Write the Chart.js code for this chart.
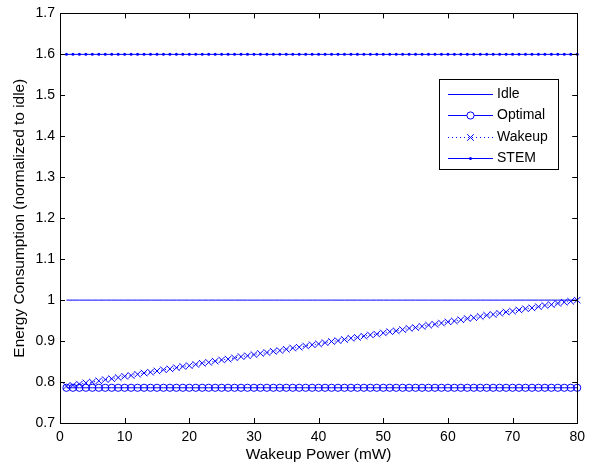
<!DOCTYPE html>
<html>
<head>
<meta charset="utf-8">
<script src="https://cdn.jsdelivr.net/npm/chart.js@4/dist/chart.umd.min.js"></script>
<style>
  body { margin: 0; background: #fff; }
  canvas { display: block; }
</style>
</head>
<body>
<canvas id="energy-chart" width="591" height="470"></canvas>
<script>
// wakeup power (mW)
var power = [
  1, 2, 3, 4, 5, 6, 7, 8, 9, 10, 11, 12, 13, 14, 15, 16, 17, 18, 19, 20,
  21, 22, 23, 24, 25, 26, 27, 28, 29, 30, 31, 32, 33, 34, 35, 36, 37, 38, 39, 40,
  41, 42, 43, 44, 45, 46, 47, 48, 49, 50, 51, 52, 53, 54, 55, 56, 57, 58, 59, 60,
  61, 62, 63, 64, 65, 66, 67, 68, 69, 70, 71, 72, 73, 74, 75, 76, 77, 78, 79, 80
];

var idle = [
  1, 1, 1, 1, 1, 1, 1, 1, 1, 1, 1, 1, 1, 1, 1, 1, 1, 1, 1, 1,
  1, 1, 1, 1, 1, 1, 1, 1, 1, 1, 1, 1, 1, 1, 1, 1, 1, 1, 1, 1,
  1, 1, 1, 1, 1, 1, 1, 1, 1, 1, 1, 1, 1, 1, 1, 1, 1, 1, 1, 1,
  1, 1, 1, 1, 1, 1, 1, 1, 1, 1, 1, 1, 1, 1, 1, 1, 1, 1, 1, 1
];

var optimal = [
  0.786, 0.786, 0.786, 0.786, 0.786, 0.786, 0.786, 0.786, 0.786, 0.786,
  0.786, 0.786, 0.786, 0.786, 0.786, 0.786, 0.786, 0.786, 0.786, 0.786,
  0.786, 0.786, 0.786, 0.786, 0.786, 0.786, 0.786, 0.786, 0.786, 0.786,
  0.786, 0.786, 0.786, 0.786, 0.786, 0.786, 0.786, 0.786, 0.786, 0.786,
  0.786, 0.786, 0.786, 0.786, 0.786, 0.786, 0.786, 0.786, 0.786, 0.786,
  0.786, 0.786, 0.786, 0.786, 0.786, 0.786, 0.786, 0.786, 0.786, 0.786,
  0.786, 0.786, 0.786, 0.786, 0.786, 0.786, 0.786, 0.786, 0.786, 0.786,
  0.786, 0.786, 0.786, 0.786, 0.786, 0.786, 0.786, 0.786, 0.786, 0.786
];

var wakeup = [
  0.790, 0.792, 0.795, 0.798, 0.800, 0.803, 0.806, 0.808, 0.811, 0.814,
  0.816, 0.819, 0.822, 0.824, 0.827, 0.830, 0.832, 0.835, 0.838, 0.840,
  0.843, 0.846, 0.848, 0.851, 0.854, 0.856, 0.859, 0.862, 0.864, 0.867,
  0.870, 0.872, 0.875, 0.877, 0.880, 0.883, 0.885, 0.888, 0.891, 0.893,
  0.896, 0.899, 0.901, 0.904, 0.907, 0.909, 0.912, 0.915, 0.917, 0.920,
  0.923, 0.925, 0.928, 0.931, 0.933, 0.936, 0.939, 0.941, 0.944, 0.947,
  0.949, 0.952, 0.955, 0.957, 0.960, 0.963, 0.965, 0.968, 0.971, 0.973,
  0.976, 0.979, 0.981, 0.984, 0.987, 0.989, 0.992, 0.995, 0.997, 1.000
];

var stem = [
  1.6, 1.6, 1.6, 1.6, 1.6, 1.6, 1.6, 1.6, 1.6, 1.6, 1.6, 1.6, 1.6, 1.6, 1.6, 1.6, 1.6, 1.6, 1.6, 1.6,
  1.6, 1.6, 1.6, 1.6, 1.6, 1.6, 1.6, 1.6, 1.6, 1.6, 1.6, 1.6, 1.6, 1.6, 1.6, 1.6, 1.6, 1.6, 1.6, 1.6,
  1.6, 1.6, 1.6, 1.6, 1.6, 1.6, 1.6, 1.6, 1.6, 1.6, 1.6, 1.6, 1.6, 1.6, 1.6, 1.6, 1.6, 1.6, 1.6, 1.6,
  1.6, 1.6, 1.6, 1.6, 1.6, 1.6, 1.6, 1.6, 1.6, 1.6, 1.6, 1.6, 1.6, 1.6, 1.6, 1.6, 1.6, 1.6, 1.6, 1.6
];

var seriesNames = ["Idle", "Optimal", "Wakeup", "STEM"];
var xTickLabels = ["0", "10", "20", "30", "40", "50", "60", "70", "80"];
var yTickLabels = ["0.7", "0.8", "0.9", "1", "1.1", "1.2", "1.3", "1.4", "1.5", "1.6", "1.7"];

var BLUE = "#0000ff";
var FONT = "'Liberation Sans', Arial, Helvetica, sans-serif";

function points(ys) {
  return power.map(function (x, i) { return { x: x, y: ys[i] }; });
}

// box round the axes with MATLAB-style inward ticks
var framePlugin = {
  id: "frame",
  afterDraw: function (chart) {
    var c = chart.ctx, a = chart.chartArea;
    var xs = chart.scales.x, ys = chart.scales.y;
    c.save();
    c.strokeStyle = "#000";
    c.lineWidth = 1;
    c.strokeRect(Math.round(a.left) + 0.5, Math.round(a.top) + 0.5,
                 Math.round(a.right - a.left), Math.round(a.bottom - a.top));
    c.beginPath();
    xs.ticks.forEach(function (t) {
      var px = Math.round(xs.getPixelForValue(t.value)) + 0.5;
      c.moveTo(px, a.bottom); c.lineTo(px, a.bottom - 5);
      c.moveTo(px, a.top); c.lineTo(px, a.top + 5);
    });
    ys.ticks.forEach(function (t) {
      var py = Math.round(ys.getPixelForValue(t.value)) + 0.5;
      c.moveTo(a.left, py); c.lineTo(a.left + 5, py);
      c.moveTo(a.right, py); c.lineTo(a.right - 5, py);
    });
    c.stroke();
    c.restore();
  }
};

// legend box in the upper right of the plot
var legendPlugin = {
  id: "boxLegend",
  afterDraw: function (chart) {
    var c = chart.ctx;
    var left = 439, top = 79, w = 119, h = 90;
    c.save();
    c.fillStyle = "#fff";
    c.fillRect(left, top, w, h);
    c.strokeStyle = "#000";
    c.lineWidth = 1;
    c.strokeRect(left + 0.5, top + 0.5, w, h);
    c.font = "14px " + FONT;
    c.textBaseline = "middle";
    chart.data.datasets.forEach(function (ds, i) {
      var y = top + 14.5 + i * 21.5;
      var yy = Math.round(y) + 0.5;
      var mx = 470.5;
      c.strokeStyle = BLUE;
      c.lineWidth = 1;
      c.setLineDash(ds.borderDash || []);
      c.beginPath();
      c.moveTo(448, yy); c.lineTo(493, yy);
      c.stroke();
      c.setLineDash([]);
      var r = ds.pointRadius;
      if (ds.pointStyle === "circle" && ds.pointBackgroundColor === BLUE) {
        c.fillStyle = BLUE;
        c.beginPath(); c.arc(mx, yy, r, 0, Math.PI * 2); c.fill();
      } else if (ds.pointStyle === "circle" && r > 0) {
        c.fillStyle = "#fff";
        c.beginPath(); c.arc(mx, yy, r, 0, Math.PI * 2); c.fill(); c.stroke();
      } else if (ds.pointStyle === "crossRot") {
        var d = r * 0.707;
        c.beginPath();
        c.moveTo(mx - d, yy - d); c.lineTo(mx + d, yy + d);
        c.moveTo(mx - d, yy + d); c.lineTo(mx + d, yy - d);
        c.stroke();
      }
      c.fillStyle = "#000";
      c.fillText(ds.label, 497, y + 0.5);
    });
    c.restore();
  }
};

new Chart(document.getElementById("energy-chart"), {
  type: "line",
  data: {
    datasets: [
      {
        label: seriesNames[0],
        data: points(idle),
        borderColor: BLUE,
        borderWidth: 1,
        pointRadius: 0
      },
      {
        label: seriesNames[1],
        data: points(optimal),
        borderColor: BLUE,
        borderWidth: 1,
        pointStyle: "circle",
        pointRadius: 3.6,
        pointBorderColor: BLUE,
        pointBackgroundColor: "rgba(0,0,0,0)",
        pointBorderWidth: 1
      },
      {
        label: seriesNames[2],
        data: points(wakeup),
        borderColor: BLUE,
        borderWidth: 1,
        borderDash: [1, 3],
        pointStyle: "crossRot",
        pointRadius: 4.6,
        pointBorderColor: BLUE,
        pointBorderWidth: 1
      },
      {
        label: seriesNames[3],
        data: points(stem),
        borderColor: BLUE,
        borderWidth: 1,
        pointStyle: "circle",
        pointRadius: 1.5,
        pointBorderColor: BLUE,
        pointBackgroundColor: BLUE,
        pointBorderWidth: 0
      }
    ]
  },
  options: {
    responsive: false,
    animation: false,
    clip: false,
    layout: { padding: { left: 0, top: 13, right: 10, bottom: 0 } },
    plugins: {
      legend: { display: false },
      tooltip: { enabled: false }
    },
    scales: {
      x: {
        type: "linear",
        min: 0,
        max: 80,
        afterFit: function (s) { s.height = 47; },
        grid: { display: false, drawTicks: false },
        border: { display: false },
        ticks: {
          stepSize: 10,
          padding: 6,
          maxRotation: 0,
          color: "#000",
          font: { family: FONT, size: 14 },
          callback: function (v) { return xTickLabels[Math.round(v / 10)]; }
        },
        title: {
          display: true,
          text: "Wakeup Power (mW)",
          color: "#000",
          font: { family: FONT, size: 15.4 },
          padding: { top: 0, bottom: 6 }
        }
      },
      y: {
        min: 0.7,
        max: 1.7,
        afterFit: function (s) { s.width = 60; },
        grid: { display: false, drawTicks: false },
        border: { display: false },
        ticks: {
          stepSize: 0.1,
          padding: 5,
          color: "#000",
          font: { family: FONT, size: 14 },
          callback: function (v) { return yTickLabels[Math.round((v - 0.7) * 10)]; }
        },
        title: {
          display: true,
          text: "Energy Consumption (normalized to idle)",
          color: "#000",
          font: { family: FONT, size: 15.4 },
          padding: { top: 11, bottom: 0 }
        }
      }
    }
  },
  plugins: [framePlugin, legendPlugin]
});
</script>
</body>
</html>
